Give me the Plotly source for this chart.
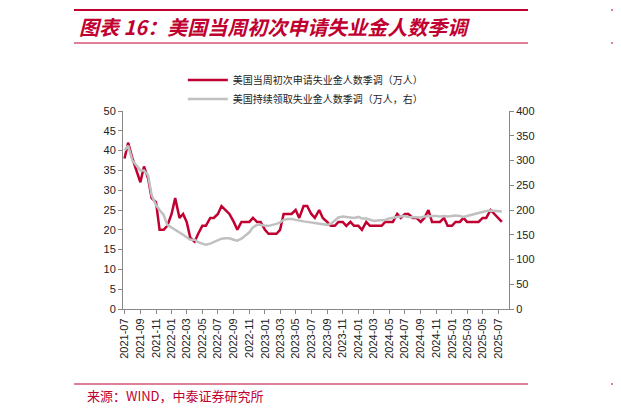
import pandas as pd
import plotly.graph_objects as go

dates = pd.date_range("2021-07-01", periods=98, freq="SMS")
initial_claims = [38,42,38,35,32,36,33,28,27,20,20,21,24,28,23,24,22,18,17,19,21,21,23,23,24,26,25,24,22,20,
                  22,22,22,23,22,22,20,19,19,19,20,24,24,24,25,23,26,26,24,23,25,23,22,21,21,22,22,21,22,21,
                  21,20,22,21,21,21,21,22,22,22,24,23,24,24,23,23,22,23,25,22,22,22,23,21,21,22,22,23,22,22,
                  22,22,23,23,25,24,23,22]
continuing_claims = [320,330,300,290,280,280,270,230,210,200,190,170,165,160,155,150,145,140,140,135,132,130,132,135,138,142,143,143,140,138,
                     142,148,155,165,170,170,168,168,170,172,175,180,182,182,180,178,177,176,175,173,172,172,170,172,180,185,187,186,185,184,
                     186,183,183,180,178,179,179,180,183,185,186,187,188,186,186,185,185,187,188,188,188,187,188,187,188,189,188,186,188,190,
                     192,194,196,198,199,198,197,197]
tickvals = pd.date_range("2021-07-01", "2025-07-01", freq="2MS")
ticktext = [d.strftime("%Y-%m") for d in tickvals]

RED = "#C00030"
OFF = 7  # page offset correction
fig = go.Figure()
fig.add_trace(go.Scatter(x=dates, y=initial_claims, mode="lines", line=dict(color=RED, width=2.5),
                         name="美国当周初次申请失业金人数季调（万人）"))
fig.add_trace(go.Scatter(x=dates, y=continuing_claims, mode="lines", yaxis="y2", line=dict(color="#C0C0C0", width=2.5),
                         name="美国持续领取失业金人数季调（万人，右）"))
ax = dict(showgrid=False, zeroline=False, showline=True, linecolor="#888", linewidth=1, ticks="outside",
          ticklen=4, tickcolor="#888", automargin=False,
          tickfont=dict(family="Liberation Sans, Arial", size=11, color="#222"))
fig.update_layout(
    width=621, height=414, paper_bgcolor="white", plot_bgcolor="white",
    margin=dict(l=122-OFF, r=113+OFF, t=110-OFF, b=106+OFF, autoexpand=False),
    xaxis=dict(ax, range=["2021-06-25", "2025-08-12"], tickvals=tickvals, ticktext=ticktext, tickangle=-90),
    yaxis=dict(ax, range=[0, 50], dtick=5),
    yaxis2=dict(ax, range=[0, 400], dtick=50, overlaying="y", side="right"),
    legend=dict(x=0.155, y=1.23, xanchor="left", yanchor="top", bgcolor="rgba(0,0,0,0)", itemwidth=40,
                font=dict(family="Noto Sans CJK SC", size=10, color="#222"), tracegroupgap=0),
    showlegend=True,
)
def px(x): return (x-122)/386
def py(y): return (308-y)/198
for y0 in (9, 42):
    fig.add_shape(type="line", xref="paper", yref="paper", x0=px(73), x1=px(527), y0=py(y0), y1=py(y0),
                  line=dict(color=RED, width=2 if y0 == 9 else 1))
fig.add_shape(type="line", xref="paper", yref="paper", x0=px(73), x1=px(527), y0=py(383), y1=py(383),
              line=dict(color=RED, width=1))
for y0 in (9, 42, 383):
    fig.add_shape(type="line", xref="paper", yref="paper", x0=px(610), x1=px(660), y0=py(y0), y1=py(y0),
                  line=dict(color=RED, width=1))
fig.add_annotation(xref="paper", yref="paper", x=px(76), y=py(25), xanchor="left", yanchor="middle", showarrow=False,
                   text="<b><i>图表 16：美国当周初次申请失业金人数季调</i></b>",
                   font=dict(family="Noto Sans CJK SC", size=20, color=RED))
fig.add_annotation(xref="paper", yref="paper", x=px(84), y=py(394), xanchor="left", yanchor="middle", showarrow=False,
                   text="来源：WIND，中泰证券研究所", font=dict(family="Noto Sans CJK SC", size=13, color=RED))
fig.write_html("out.html")
